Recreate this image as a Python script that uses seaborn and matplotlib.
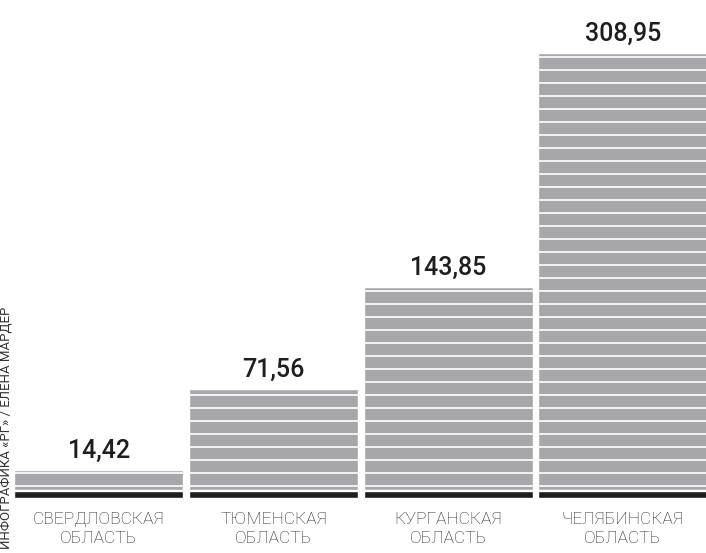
import numpy as np
import matplotlib
matplotlib.use("Agg")
import matplotlib.pyplot as plt
import seaborn as sns

regions = ["СВЕРДЛОВСКАЯ\nОБЛАСТЬ", "ТЮМЕНСКАЯ\nОБЛАСТЬ", "КУРГАНСКАЯ\nОБЛАСТЬ", "ЧЕЛЯБИНСКАЯ\nОБЛАСТЬ"]
values = [14.42, 71.56, 143.85, 308.95]
value_labels = ["14,42", "71,56", "143,85", "308,95"]
credit = "ИНФОГРАФИКА «РГ» / ЕЛЕНА МАРДЕР"

sns.set_style("white")
plt.rcParams['font.family'] = ['Roboto', 'DejaVu Sans']

gray = "#a7a7a9"
black = "#1d1d1b"

fig = plt.figure(figsize=(7.06, 5.53), dpi=100)
ax = fig.add_axes([0.0159, 0.0986, 0.99, 0.8847])

sns.barplot(x=regions, y=values, color=gray, saturation=1, width=0.967, ax=ax)

# black base strip under each bar
pos = ax.get_xticks()
ax.bar(pos, 5.0, bottom=-5.8, width=0.967, color=black, zorder=3)

# white horizontal stripes over the gray bars
ax.hlines(np.arange(2.8, 345, 9.2), -0.5, 3.5, color="white", lw=1.2, zorder=2)

for p, v, lab in zip(pos, values, value_labels):
    ax.annotate(lab, (p, v), xytext=(0, 5), textcoords="offset points",
                ha="center", va="bottom", fontsize=18, fontweight="medium",
                color="#1e1e1e", zorder=5)

ax.set_xlim(-0.5, 3.5)
ax.set_ylim(-6, 340)
ax.set_yticks([])
ax.tick_params(axis="x", length=0, pad=10)
for t in ax.get_xticklabels():
    t.set_fontsize(12.5)
    t.set_fontweight("light")
    t.set_color("#222222")
    t.set_linespacing(1.3)
sns.despine(ax=ax, left=True, bottom=True)

fig.text(0.008, 0.008, credit, rotation=90, ha="center", va="bottom",
         fontsize=9.5, color="#333333")

fig.savefig("out.png", dpi=100)
